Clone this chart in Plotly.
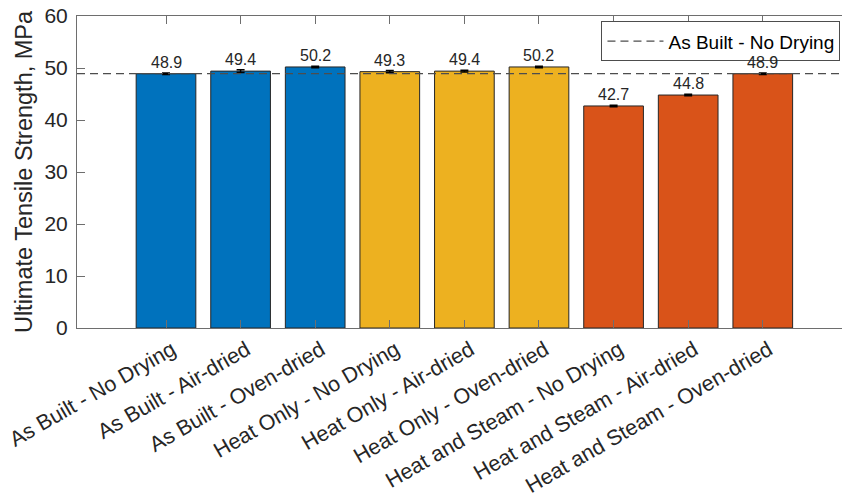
import plotly.graph_objects as go

# Tensile test results by post-processing condition
categories = [
    "As Built - No Drying", "As Built - Air-dried", "As Built - Oven-dried",
    "Heat Only - No Drying", "Heat Only - Air-dried", "Heat Only - Oven-dried",
    "Heat and Steam - No Drying", "Heat and Steam - Air-dried", "Heat and Steam - Oven-dried",
]
uts_mpa = [48.9, 49.4, 50.2, 49.3, 49.4, 50.2, 42.7, 44.8, 48.9]
uts_err = [0.15, 0.25, 0.15, 0.2, 0.15, 0.15, 0.15, 0.15, 0.15]
bar_colors = ["#0072BD"] * 3 + ["#EDB120"] * 3 + ["#D95319"] * 3
y_ticks = [0, 10, 20, 30, 40, 50, 60]

reference_name = categories[0]
reference_value = uts_mpa[0]

x_pos = list(range(len(categories)))
x_range = [-1.193, 9.062]

FONT = "Liberation Sans, Arial, Helvetica, sans-serif"
TXT = "#262626"
AX = "#6e6e6e"

fig = go.Figure()

fig.add_trace(go.Bar(
    x=x_pos, y=uts_mpa, width=0.8,
    marker=dict(color=bar_colors, line=dict(color="#262626", width=1)),
    error_y=dict(type="data", array=uts_err, color="black", thickness=1.5, width=4),
    showlegend=False, hoverinfo="skip",
))

# baseline reference: the untreated, undried condition
fig.add_trace(go.Scatter(
    x=x_range, y=[reference_value, reference_value], mode="lines",
    line=dict(color="#4d4d4d", width=1.2, dash="8px,5px"),
    name=reference_name, showlegend=True, hoverinfo="skip",
))

for xi, v, e in zip(x_pos, uts_mpa, uts_err):
    fig.add_annotation(
        x=xi, y=v + e, text=f"{v:.1f}", showarrow=False,
        yanchor="bottom", yshift=0,
        font=dict(family=FONT, size=16, color=TXT),
    )

fig.update_layout(
    width=842, height=501,
    margin=dict(l=77, r=0, t=16, b=173),
    paper_bgcolor="white", plot_bgcolor="white",
    font=dict(family=FONT, color=TXT),
    bargap=0.2,
    legend=dict(
        x=0.998, y=0.983, xanchor="right", yanchor="top",
        bgcolor="white", bordercolor="#4d4d4d", borderwidth=1,
        itemwidth=56,
        font=dict(family=FONT, size=19, color="black"),
    ),
    xaxis=dict(
        range=x_range, tickmode="array", tickvals=x_pos, ticktext=categories,
        tickangle=-30, ticks="inside", ticklen=8, tickcolor=AX,
        showline=True, linecolor=AX, linewidth=1, mirror="ticks",
        showgrid=False, zeroline=False,
        ticklabeloverflow="allow", ticklabelshift=6,
        tickfont=dict(family=FONT, size=21.5, color=TXT),
    ),
    yaxis=dict(
        range=[0, 60], tickmode="array", tickvals=y_ticks,
        ticks="inside", ticklen=8, tickcolor=AX,
        showline=True, linecolor=AX, linewidth=1, mirror=False,
        showgrid=False, zeroline=False,
        ticklabelstandoff=4,
        tickfont=dict(family=FONT, size=21, color=TXT),
        title=dict(text="Ultimate Tensile Strength, MPa", standoff=5,
                   font=dict(family=FONT, size=23.5, color=TXT)),
    ),
)

fig.write_html("out.html")
